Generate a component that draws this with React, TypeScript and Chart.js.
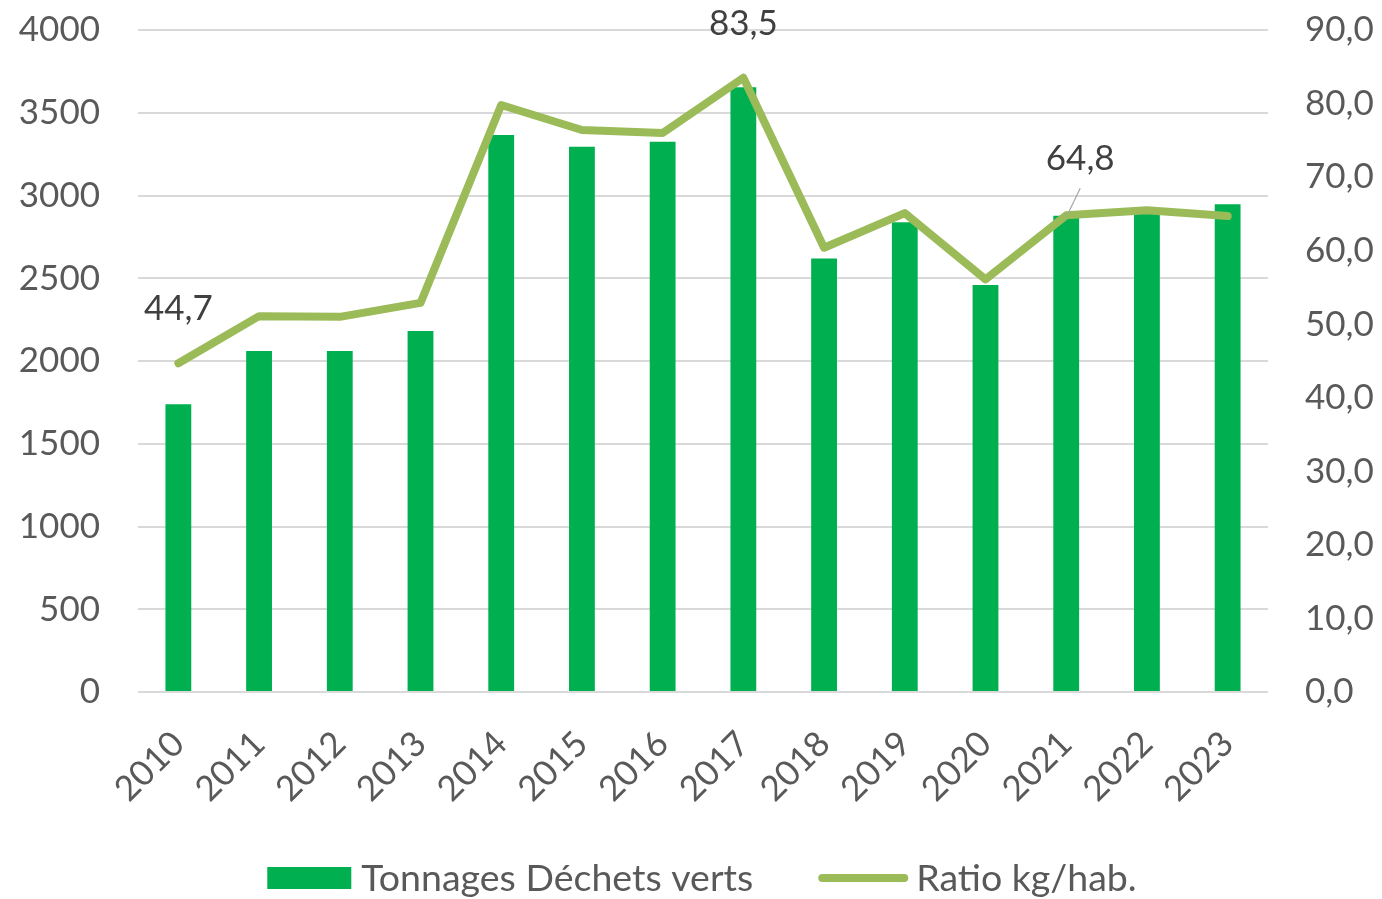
import React, { useEffect, useRef } from "react";
import { Chart, registerables } from "chart.js";

Chart.register(...registerables);

const years = ["2010", "2011", "2012", "2013", "2014", "2015", "2016", "2017", "2018", "2019", "2020", "2021", "2022", "2023"];
const tonnages = [1738, 2060, 2060, 2181, 3366, 3295, 3325, 3654, 2620, 2838, 2459, 2878, 2925, 2947];
const ratio = [44.7, 51.1, 51.0, 52.9, 79.8, 76.4, 76.0, 83.5, 60.4, 65.1, 56.1, 64.8, 65.5, 64.7];
const labelledIndexes = [0, 7, 11];
const leftAxis = { min: 0, max: 4000, step: 500 };
const rightAxis = { min: 0, max: 90, step: 10 };
const seriesNames = ["Tonnages Déchets verts", "Ratio kg/hab."];

const BAR_COLOR = "#00B050";
const LINE_COLOR = "#9BBB59";
const TEXT_COLOR = "#595959";
const LABEL_COLOR = "#404040";
const FONT = "Lato, 'Noto Sans', sans-serif";

const fmt = (v: number) => v.toFixed(1).replace(".", ",");

const dataLabelPlugin = {
  id: "dataLabels",
  afterDatasetsDraw(chart: any) {
    const meta = chart.getDatasetMeta(1);
    const ctx = chart.ctx;
    ctx.save();
    ctx.font = `35px ${FONT}`;
    ctx.fillStyle = LABEL_COLOR;
    ctx.textAlign = "center";
    ctx.textBaseline = "middle";
    labelledIndexes.forEach((i) => {
      const el = meta.data[i];
      if (!el) return;
      const leader = i === 11;
      const dx = leader ? 14 : 0;
      const dy = leader ? -57 : -54;
      if (leader) {
        ctx.strokeStyle = "#A6A6A6";
        ctx.lineWidth = 1.2;
        ctx.beginPath();
        ctx.moveTo(el.x + dx, el.y + dy + 30);
        ctx.lineTo(el.x + 1, el.y);
        ctx.stroke();
      }
      ctx.fillText(fmt(ratio[i]), el.x + dx, el.y + dy);
    });
    ctx.restore();
  },
};

const legendPlugin = {
  id: "customLegend",
  afterDraw(chart: any) {
    const ctx = chart.ctx;
    const area = chart.chartArea;
    ctx.save();
    ctx.font = `37.5px ${FONT}`;
    ctx.textBaseline = "middle";
    ctx.textAlign = "left";
    const boxW = 84;
    const lineW = 90;
    const gapText = 10;
    const gapItems = 65;
    const w0 = ctx.measureText(seriesNames[0]).width;
    const w1 = ctx.measureText(seriesNames[1]).width;
    const total = boxW + gapText + w0 + gapItems + lineW + gapText + w1;
    let x = (area.left + area.right) / 2 - total / 2;
    const y = 878;
    ctx.fillStyle = BAR_COLOR;
    ctx.fillRect(x, y - 11, boxW, 22);
    x += boxW + gapText;
    ctx.fillStyle = TEXT_COLOR;
    ctx.fillText(seriesNames[0], x, y + 1);
    x += w0 + gapItems;
    ctx.strokeStyle = LINE_COLOR;
    ctx.lineWidth = 8;
    ctx.lineCap = "round";
    ctx.beginPath();
    ctx.moveTo(x + 4, y);
    ctx.lineTo(x + lineW - 4, y);
    ctx.stroke();
    x += lineW + gapText - 2;
    ctx.fillStyle = TEXT_COLOR;
    ctx.fillText(seriesNames[1], x, y + 1);
    ctx.restore();
  },
};

export default function App() {
  const ref = useRef<HTMLCanvasElement | null>(null);

  useEffect(() => {
    document.body.style.margin = "0";
    if (!ref.current) return;
    const chart = new Chart(ref.current, {
      type: "bar",
      data: {
        labels: years,
        datasets: [
          {
            type: "bar",
            label: seriesNames[0],
            data: tonnages,
            backgroundColor: BAR_COLOR,
            borderWidth: 0,
            yAxisID: "y",
            categoryPercentage: 1,
            barPercentage: 0.32,
            order: 2,
          },
          {
            type: "line",
            label: seriesNames[1],
            data: ratio,
            borderColor: LINE_COLOR,
            backgroundColor: LINE_COLOR,
            borderWidth: 8,
            borderCapStyle: "round",
            borderJoinStyle: "round",
            pointRadius: 0,
            pointHoverRadius: 0,
            tension: 0,
            yAxisID: "y1",
            order: 1,
          },
        ],
      } as any,
      options: {
        animation: false,
        responsive: false,
        devicePixelRatio: 1,
        layout: { padding: { top: 30, left: 0, right: 0, bottom: 97 } },
        plugins: {
          tooltip: { enabled: false },
          legend: { display: false },
        },
        scales: {
          x: {
            grid: { display: false },
            border: { display: false },
            ticks: {
              color: TEXT_COLOR,
              font: { family: FONT, size: 35 },
              minRotation: 45,
              maxRotation: 45,
              padding: 23,
            },
            afterFit: (s: any) => {
              s.height = 110;
            },
          },
          y: {
            position: "left",
            min: leftAxis.min,
            max: leftAxis.max,
            grid: { color: "#D9D9D9", lineWidth: 2, drawTicks: true, tickLength: 38, tickColor: "rgba(0,0,0,0)" },
            border: { display: false },
            ticks: {
              stepSize: leftAxis.step,
              color: TEXT_COLOR,
              font: { family: FONT, size: 35 },
              padding: 0,
              callback: (v: any) => String(v),
            },
            afterFit: (s: any) => {
              s.width = 138;
            },
          },
          y1: {
            position: "right",
            min: rightAxis.min,
            max: rightAxis.max,
            grid: { drawOnChartArea: false, drawTicks: true, tickLength: 37, tickColor: "rgba(0,0,0,0)" },
            border: { display: false },
            ticks: {
              stepSize: rightAxis.step,
              color: TEXT_COLOR,
              font: { family: FONT, size: 35 },
              padding: 0,
              callback: (v: any) => fmt(Number(v)),
            },
            afterFit: (s: any) => {
              s.width = 114;
            },
          },
        },
      } as any,
      plugins: [dataLabelPlugin, legendPlugin],
    });
    return () => chart.destroy();
  }, []);

  return (
    <div style={{ position: "absolute", left: 0, top: 0, width: 1382, height: 899, background: "#fff" }}>
      <canvas ref={ref} width={1382} height={899} />
    </div>
  );
}
